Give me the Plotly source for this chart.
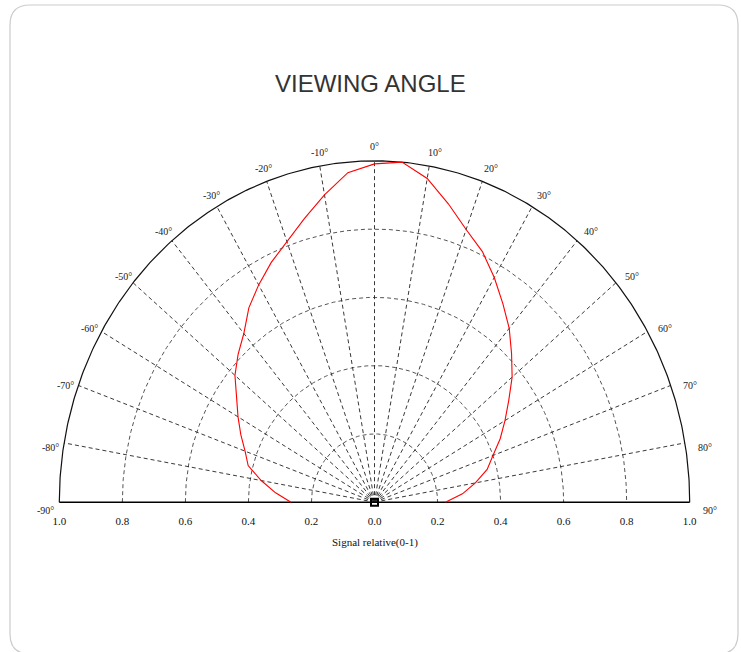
import numpy as np
import plotly.graph_objects as go

# ---------------- data ----------------
angles_deg = [-90, -85, -80, -75, -70, -65, -60, -55, -50, -45, -40, -35, -30, -25, -20, -15, -10, -5,
              0, 5, 10, 15, 20, 25, 30, 35, 40, 45, 50, 55, 60, 65, 70, 75, 80, 85, 90]
signal = [0.265, 0.315, 0.365, 0.415, 0.437, 0.468, 0.500, 0.535, 0.578, 0.612, 0.645, 0.695, 0.735,
          0.775, 0.812, 0.860, 0.914, 0.969,
          0.991, 1.000, 0.963, 0.905, 0.850, 0.810, 0.760, 0.710, 0.665, 0.615, 0.570, 0.520, 0.478,
          0.440, 0.400, 0.370, 0.325, 0.280, 0.225]
ring_values = [0.2, 0.4, 0.6, 0.8]
outer_ring = 1.0
spoke_angles = [-80, -70, -60, -50, -40, -30, -20, -10, 0, 10, 20, 30, 40, 50, 60, 70, 80]
angle_labels = [-90, -80, -70, -60, -50, -40, -30, -20, -10, 0, 10, 20, 30, 40, 50, 60, 70, 80, 90]
tick_values = [-1.0, -0.8, -0.6, -0.4, -0.2, 0.0, 0.2, 0.4, 0.6, 0.8, 1.0]
tick_text = ["1.0", "0.8", "0.6", "0.4", "0.2", "0.0", "0.2", "0.4", "0.6", "0.8", "1.0"]
title_text = "VIEWING ANGLE"
axis_title = "Signal relative(0-1)"

# ---------------- layout geometry ----------------
W, H = 741, 652
L, R, T, B = 53, 45, 154, 143
XR = [-1.02, 1.02]
YR = [-0.02, 1.02]
PW, PH = W - L - R, H - T - B


def px2paper_x(px):
    return (px - L) / PW


def px2paper_y(py):
    return (H - B - py) / PH


SERIF = "Liberation Serif, Times New Roman, serif"
SANS = "Liberation Sans, Arial, sans-serif"

fig = go.Figure()

# rings
th = np.radians(np.linspace(-90, 90, 361))
for rv in ring_values:
    fig.add_trace(go.Scatter(x=rv * np.sin(th), y=rv * np.cos(th), mode="lines",
                             line=dict(color="#555555", width=1, dash="4px,3px"),
                             hoverinfo="skip", showlegend=False))
# spokes
for a in spoke_angles:
    t = np.radians(a)
    fig.add_trace(go.Scatter(x=[0, outer_ring * np.sin(t)], y=[0, outer_ring * np.cos(t)], mode="lines",
                             line=dict(color="#222222", width=0.9, dash="4px,3px"),
                             hoverinfo="skip", showlegend=False))
# outer ring
fig.add_trace(go.Scatter(x=outer_ring * np.sin(th), y=outer_ring * np.cos(th), mode="lines",
                         line=dict(color="#111111", width=1.2),
                         hoverinfo="skip", showlegend=False))
# baseline
fig.add_trace(go.Scatter(x=[tick_values[0], tick_values[-1]], y=[0, 0], mode="lines",
                         line=dict(color="#000000", width=1.5),
                         hoverinfo="skip", showlegend=False))
# data curve
ang = np.radians(angles_deg)
sig = np.array(signal)
fig.add_trace(go.Scatter(x=sig * np.sin(ang), y=sig * np.cos(ang), mode="lines",
                         line=dict(color="#ff0000", width=1.1),
                         showlegend=False))
# centre marker
fig.add_trace(go.Scatter(x=[0], y=[0], mode="markers",
                         marker=dict(symbol="square-open", size=7, color="#000000", line=dict(width=2)),
                         hoverinfo="skip", showlegend=False))

annotations = []
for a in angle_labels:
    t = np.radians(a)
    annotations.append(dict(x=np.sin(t), y=np.cos(t), xref="x", yref="y", text=f"{a}°",
                            showarrow=False, font=dict(family=SERIF, size=10, color="#222222"),
                            xanchor="center", yanchor="middle",
                            xshift=17 * np.sin(t) + (3 if a != 0 else 0),
                            yshift=22 * np.cos(t) - 8))
annotations.append(dict(x=px2paper_x(370), y=px2paper_y(83), xref="paper", yref="paper",
                        text=title_text, showarrow=False, xanchor="center", yanchor="middle",
                        font=dict(family=SANS, size=24, color="#333333")))
annotations.append(dict(x=0, y=px2paper_y(542), xref="x", yref="paper",
                        text=axis_title, showarrow=False, xanchor="center", yanchor="middle",
                        font=dict(family=SERIF, size=11, color="#111111")))

# rounded border
x0, x1 = px2paper_x(10), px2paper_x(738)
y0, y1 = px2paper_y(5), px2paper_y(654)
rx, ry = 20 / PW, 20 / PH
path = (f"M {x0 + rx},{y0} L {x1 - rx},{y0} Q {x1},{y0} {x1},{y0 - ry} "
        f"L {x1},{y1 + ry} Q {x1},{y1} {x1 - rx},{y1} "
        f"L {x0 + rx},{y1} Q {x0},{y1} {x0},{y1 + ry} "
        f"L {x0},{y0 - ry} Q {x0},{y0} {x0 + rx},{y0} Z")

fig.update_layout(
    width=W, height=H,
    margin=dict(l=L, r=R, t=T, b=B),
    paper_bgcolor="white", plot_bgcolor="white",
    xaxis=dict(range=XR, tickvals=tick_values, ticktext=tick_text, showgrid=False, zeroline=False,
               showline=False, ticks="", ticklabelstandoff=4,
               tickfont=dict(family=SERIF, size=11, color="#111111"),
               fixedrange=True),
    yaxis=dict(range=YR, showgrid=False, zeroline=False, showline=False, showticklabels=False,
               fixedrange=True),
    annotations=annotations,
    shapes=[dict(type="path", path=path, xref="paper", yref="paper",
                 line=dict(color="#cccccc", width=1.2))],
)

fig.write_html("out.html", config={"displayModeBar": False},
               post_script="document.body.style.margin='0';document.body.style.overflow='hidden';")
